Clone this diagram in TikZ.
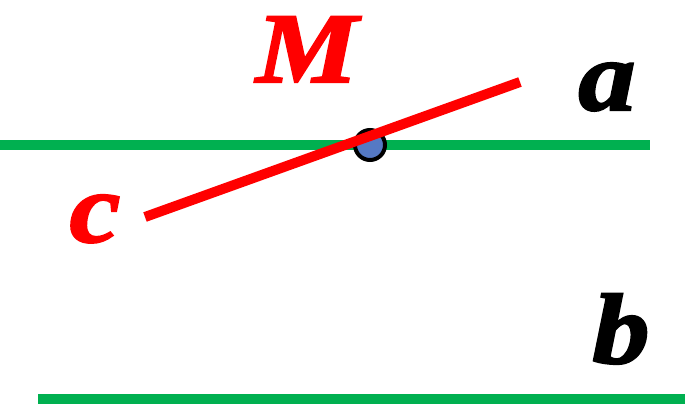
\documentclass[tikz,border=0pt]{standalone}
\usepackage{fontspec}
\setmainfont{Liberation Serif}
\newfontfamily\heavyfont[FakeBold=2, FakeStretch=1.15]{Liberation Serif}
\definecolor{lnGreen}{HTML}{00B050}
\definecolor{lnRed}{HTML}{FF0000}
\definecolor{ptBlue}{HTML}{5579C4}

\begin{document}
\begin{tikzpicture}[x=1pt, y=-1pt,
    gline/.style={draw=lnGreen, line width=10pt},
    rline/.style={draw=lnRed, line width=10pt},
    letter/.style={font=\heavyfont\bfseries\itshape\fontsize{100}{100}\selectfont,
        inner sep=0pt, anchor=base, text=#1},
    dot/.style={circle, draw=black, line width=4pt, fill=ptBlue,
        minimum size=30pt, inner sep=0pt},
]
\useasboundingbox (0,0) rectangle (685,404);

% === Line positions ===
\def\rowA{145}   % line a
\def\rowB{399}   % line b

% === Parallel lines a and b ===
\coordinate (a1) at (0, \rowA);
\coordinate (a2) at (650, \rowA);
\coordinate (b1) at (38, \rowB);
\coordinate (b2) at (685, \rowB);
\draw[gline] (a1) -- (a2);
\draw[gline] (b1) -- (b2);

% === Point M on a ===
\node[dot] (M) at (370, 145) {};

% === Line c through M ===
\coordinate (c1) at (145, 217);
\coordinate (c2) at (520, 82);
\draw[rline] (c1) -- (c2);

% Labels
\node[letter=lnRed] (labM) at (307, 82) {M};
\node[letter=black] (laba) at (607, 110) {a};
\node[letter=lnRed] (labc) at (95, 242) {c};
\node[letter=black] (labb) at (621, 363) {b};

\end{tikzpicture}
\end{document}
